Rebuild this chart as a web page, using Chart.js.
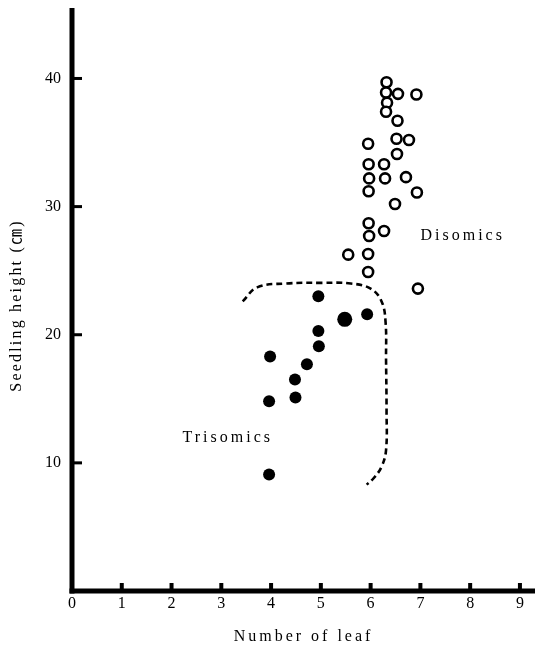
<!DOCTYPE html>
<html>
<head>
<meta charset="utf-8">
<script src="https://cdn.jsdelivr.net/npm/chart.js@4.4.1/dist/chart.umd.min.js"></script>
<style>
  html, body { margin: 0; padding: 0; background: #fff; }
  canvas { display: block; }
</style>
</head>
<body>
<canvas id="chart" width="535" height="649"></canvas>
<script>
// valores
const disomicsLeaf   = [6.32, 6.31, 6.55, 6.92, 6.33, 6.31, 6.54, 5.95, 6.52, 6.77, 6.53, 5.96, 6.27,
                        5.97, 6.29, 6.71, 5.96, 6.93, 6.49, 5.96, 6.27, 5.97, 5.55, 5.95, 5.95, 6.95];
const disomicsHeight = [39.7, 38.9, 38.8, 38.75, 38.1, 37.4, 36.7, 34.9, 35.3, 35.2, 34.1, 33.3, 33.3,
                        32.2, 32.2, 32.3, 31.2, 31.1, 30.2, 28.7, 28.1, 27.7, 26.25, 26.3, 24.9, 23.6];

const trisomicsLeaf   = [4.95, 5.48, 5.93, 4.95, 4.96, 3.98, 4.72, 4.48, 4.49, 3.96, 3.96];
const trisomicsHeight = [23.0, 21.2, 21.6, 20.3, 19.1, 18.3, 17.7, 16.5, 15.1, 14.8, 9.1];

// linha tracejada que separa os trissomicos
const boundaryLeaf   = [3.43, 3.72, 4.3, 5.0, 5.6, 6.0, 6.22, 6.3, 6.31, 6.32, 6.31, 6.22, 6.06, 5.92];
const boundaryHeight = [22.6, 23.7, 24.0, 24.05, 24.0, 23.6, 22.6, 21.0, 18.0, 14.0, 11.0, 9.7, 8.8, 8.3];

const xTicks = [0, 1, 2, 3, 4, 5, 6, 7, 8, 9];
const yTicks = [10, 20, 30, 40];

const xTitle = 'Number of leaf';
const yTitle = 'Seedling height (㎝)';
const labels = [
  { text: 'Disomics', x: 7.85, y: 27.7 },
  { text: 'Trisomics', x: 3.13, y: 11.95 }
];

const pair = (xs, ys) => xs.map((x, i) => ({ x: x, y: ys[i] }));
const SERIF = '"Liberation Serif", "DejaVu Serif", "Noto Sans CJK JP", serif';

// eixos grossos, marcas e textos
const figurePlugin = {
  id: 'figure',
  afterDraw(chart) {
    const ctx = chart.ctx;
    const area = chart.chartArea;
    const xs = chart.scales.x, ys = chart.scales.y;
    const x0 = xs.getPixelForValue(0);
    const y0 = ys.getPixelForValue(0);

    ctx.save();
    ctx.fillStyle = '#000';
    // eixo y
    ctx.fillRect(x0 - 2.5, area.top, 5, y0 - area.top + 2.5);
    // eixo x
    ctx.fillRect(x0 - 2.5, y0 - 2.5, chart.width - x0 + 2.5, 5);
    // marcas no eixo x
    xTicks.forEach(v => {
      if (v === 0) return;
      const px = xs.getPixelForValue(v);
      ctx.fillRect(px - 2, y0 - 8, 4, 8);
    });
    // marcas no eixo y
    yTicks.forEach(v => {
      const py = ys.getPixelForValue(v);
      ctx.fillRect(x0, py - 1.5, 10, 3);
    });

    // titulos dos eixos
    ctx.textAlign = 'center';
    ctx.textBaseline = 'middle';
    ctx.font = '16px ' + SERIF;
    ctx.letterSpacing = '3px';
    ctx.fillText(xTitle, (area.left + chart.width) / 2, 637);

    ctx.save();
    ctx.translate(17, (area.top + area.bottom) / 2 + 6);
    ctx.rotate(-Math.PI / 2);
    ctx.letterSpacing = '2.2px';
    ctx.fillText(yTitle, 0, 0);
    ctx.restore();

    // rotulos dos grupos
    ctx.letterSpacing = '3px';
    labels.forEach(l => {
      ctx.fillText(l.text, xs.getPixelForValue(l.x), ys.getPixelForValue(l.y));
    });
    ctx.restore();
  }
};

new Chart(document.getElementById('chart'), {
  type: 'scatter',
  data: {
    datasets: [
      {
        label: 'Disomics',
        data: pair(disomicsLeaf, disomicsHeight),
        pointStyle: 'circle',
        pointRadius: 5,
        backgroundColor: '#fff',
        borderColor: '#000',
        borderWidth: 2.6
      },
      {
        label: 'Trisomics',
        data: pair(trisomicsLeaf, trisomicsHeight),
        pointStyle: 'circle',
        pointRadius: c => c.dataIndex === 1 ? 7.5 : 6,
        backgroundColor: '#000',
        borderColor: '#000',
        borderWidth: 0
      },
      {
        type: 'line',
        label: 'boundary',
        data: pair(boundaryLeaf, boundaryHeight),
        showLine: true,
        fill: false,
        tension: 0.4,
        pointRadius: 0,
        borderColor: '#000',
        borderWidth: 2.6,
        borderDash: [6, 4]
      }
    ]
  },
  options: {
    responsive: false,
    animation: false,
    events: [],
    layout: { padding: { top: 8, right: 0, left: 0, bottom: 0 } },
    plugins: {
      legend: { display: false },
      tooltip: { enabled: false }
    },
    scales: {
      x: {
        type: 'linear',
        min: 0,
        max: 9.15,
        afterBuildTicks: s => { s.ticks = xTicks.map(v => ({ value: v })); },
        afterFit: s => { s.height = 58; s.paddingLeft = 0; s.paddingRight = 0; },
        grid: { display: false, drawTicks: false },
        border: { display: false },
        ticks: { color: '#000', padding: 3, maxRotation: 0, font: { family: SERIF, size: 16 } }
      },
      y: {
        type: 'linear',
        min: 0,
        max: 45.5,
        afterBuildTicks: s => { s.ticks = yTicks.map(v => ({ value: v })); },
        afterFit: s => { s.width = 72; s.paddingTop = 0; s.paddingBottom = 0; },
        grid: { display: false, drawTicks: false },
        border: { display: false },
        ticks: { color: '#000', padding: 11, font: { family: SERIF, size: 16 } }
      }
    }
  },
  plugins: [figurePlugin]
});
</script>
</body>
</html>
